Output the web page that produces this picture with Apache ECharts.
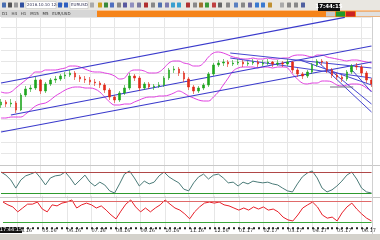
<!DOCTYPE html>
<html><head><meta charset="utf-8">
<script src="https://cdn.jsdelivr.net/npm/echarts@6/dist/echarts.min.js"></script>
<style>html,body{margin:0;padding:0;background:#fff;overflow:hidden}#c{width:380px;height:240px}</style>
</head><body><div id="c"></div>
<script>
// ---- data ----
const monthLabels = ['04.16','05.16','06.16','07.16','08.16','09.16','10.16','11.16','12.16','01.17','02.17','03.17','04.17','05.17','06.17'];
// candles: [open, close, low, high]
const candles = [
[1.060,1.063,1.057,1.066],[1.063,1.061,1.058,1.065],[1.061,1.062,1.058,1.066],[1.062,1.055,1.052,1.064],
[1.055,1.070,1.054,1.072],[1.070,1.076,1.068,1.079],[1.076,1.077,1.073,1.080],[1.077,1.085,1.075,1.088],
[1.085,1.074,1.071,1.086],[1.074,1.081,1.072,1.083],[1.081,1.085,1.079,1.087],[1.085,1.086,1.082,1.089],
[1.086,1.089,1.084,1.091],[1.089,1.090,1.086,1.093],[1.090,1.092,1.088,1.095],[1.092,1.088,1.085,1.094],
[1.088,1.086,1.083,1.090],[1.086,1.085,1.082,1.089],[1.085,1.083,1.080,1.088],[1.083,1.082,1.079,1.086],
[1.082,1.080,1.077,1.084],[1.080,1.075,1.072,1.082],[1.075,1.068,1.065,1.077],[1.068,1.065,1.062,1.070],
[1.065,1.072,1.063,1.074],[1.072,1.077,1.070,1.080],[1.077,1.089,1.075,1.092],[1.089,1.087,1.084,1.091],
[1.087,1.077,1.074,1.089],[1.077,1.081,1.075,1.083],[1.081,1.078,1.076,1.083],[1.078,1.079,1.075,1.081],
[1.079,1.080,1.077,1.083],[1.080,1.087,1.078,1.089],[1.087,1.095,1.085,1.097],[1.095,1.096,1.092,1.099],
[1.096,1.092,1.089,1.098],[1.092,1.086,1.083,1.094],[1.086,1.078,1.075,1.088],[1.078,1.074,1.071,1.080],
[1.074,1.077,1.072,1.079],[1.077,1.080,1.075,1.082],[1.080,1.091,1.078,1.093],[1.091,1.100,1.089,1.102],
[1.100,1.102,1.098,1.105],[1.102,1.103,1.099,1.106],[1.103,1.101,1.098,1.105],[1.101,1.102,1.099,1.105],
[1.102,1.103,1.100,1.106],[1.103,1.101,1.098,1.105],[1.101,1.102,1.099,1.104],[1.102,1.103,1.100,1.106],
[1.103,1.101,1.098,1.105],[1.101,1.102,1.099,1.105],[1.102,1.103,1.100,1.106],[1.103,1.101,1.098,1.104],
[1.101,1.102,1.099,1.105],[1.102,1.101,1.098,1.104],[1.101,1.103,1.099,1.106],[1.103,1.095,1.092,1.104],
[1.095,1.091,1.088,1.097],[1.091,1.089,1.086,1.093],[1.089,1.093,1.087,1.095],[1.093,1.100,1.091,1.102],
[1.100,1.104,1.098,1.106],[1.104,1.103,1.100,1.106],[1.103,1.095,1.092,1.104],[1.095,1.090,1.087,1.097],
[1.090,1.088,1.085,1.092],[1.088,1.086,1.083,1.090],[1.086,1.093,1.084,1.095],[1.093,1.099,1.091,1.101],
[1.099,1.098,1.095,1.102],[1.098,1.092,1.089,1.100],[1.092,1.085,1.082,1.094],[1.085,1.081,1.078,1.087]
];
const upperBand = [1.073,1.072,1.073,1.077,1.081,1.085,1.089,1.093,1.093,1.095,1.095,1.095,1.096,1.097,1.099,1.099,
1.098,1.096,1.094,1.093,1.093,1.092,1.091,1.089,1.086,1.087,1.093,1.095,1.095,1.094,1.092,1.092,1.093,1.097,1.102,1.104,
1.104,1.102,1.101,1.099,1.099,1.102,1.108,1.112,1.113,1.112,1.110,1.108,1.107,1.106,1.106,1.107,1.106,1.106,1.107,1.106,
1.106,1.107,1.107,1.109,1.110,1.110,1.109,1.108,1.110,1.110,1.108,1.107,1.106,1.105,1.104,1.105,1.105,1.104,1.103,1.102];
const lowerBand = [1.047,1.047,1.048,1.048,1.048,1.051,1.055,1.059,1.061,1.062,1.065,1.069,1.072,1.075,1.077,1.078,
1.078,1.077,1.077,1.076,1.073,1.068,1.063,1.060,1.060,1.061,1.061,1.063,1.065,1.067,1.068,1.068,1.069,1.069,1.070,1.072,
1.074,1.072,1.069,1.067,1.065,1.064,1.064,1.068,1.073,1.080,1.087,1.094,1.097,1.098,1.098,1.098,1.097,1.098,1.098,1.097,
1.098,1.098,1.097,1.091,1.086,1.082,1.081,1.082,1.082,1.084,1.084,1.083,1.080,1.079,1.080,1.081,1.081,1.080,1.077,1.074];
// trend lines: [[x0, price0], [x1, price1]] in bar index units
const channelLines = [
  [[0, 1.082], [69.6, 1.1476]],
  [[2, 1.050], [75, 1.119]],
  [[0, 1.033], [75, 1.103]]
];
const fanLines = [
  [[46.4, 1.112], [75, 1.097]],
  [[46.4, 1.107], [75, 1.087]],
  [[64.2, 1.103], [75, 1.053]],
  [[66.6, 1.095], [75, 1.061]],
  [[70.7, 1.097], [75, 1.073]],
  [[60.5, 1.105], [75, 1.080]]
];
const grayLines = [
  [[66.6, 1.078], [71.3, 1.078]]
];
const osc1 = [80,71,57,34,57,69,74,80,63,43,63,69,71,80,63,43,57,71,51,40,51,43,26,20,46,74,83,63,40,54,46,51,69,80,66,57,49,31,26,49,66,74,60,71,74,63,49,51,40,51,46,54,51,49,51,46,43,34,26,23,46,66,77,83,63,34,23,29,40,54,71,80,60,34,23,20];
const osc2 = [77,69,63,49,60,71,71,77,57,49,69,66,74,77,83,60,69,74,69,60,66,54,40,29,51,71,83,63,49,60,49,60,69,83,71,60,54,43,29,49,63,74,77,74,77,69,66,60,54,60,54,63,57,63,54,57,49,34,26,23,40,60,69,77,63,40,31,34,23,46,63,74,57,43,31,23];
const levels = [80, 20];

// ---- chart ----
const cats = candles.map((_, i) => i);
const gridLineIdx = i => (i - 3) % 5 === 0;
const labelOf = i => gridLineIdx(i) ? monthLabels[(i - 3) / 5] : '';

const chart = echarts.init(document.getElementById('c'), null, {renderer: 'canvas'});
const splitL = {show: true, interval: (i) => gridLineIdx(i), lineStyle: {color: '#e6e6e6', width: 1}};
function catAxis(grid, showLabels) {
  return {type: 'category', gridIndex: grid, data: cats, boundaryGap: false,
    axisLine: {show: false}, axisTick: showLabels ? {show: true, interval: 0, length: 2, lineStyle: {color: '#222', width: 2}} : {show: false},
    axisLabel: showLabels ? {show: true, interval: 0, formatter: (v) => labelOf(+v), fontSize: 5, color: '#333', margin: 1, fontFamily: 'DejaVu Sans', align: 'left'} : {show: false},
    splitLine: splitL};
}
const lineSeries = (arr, color, width) => arr.map(seg => ({
  type: 'line', xAxisIndex: 1, yAxisIndex: 0, data: seg, symbol: 'none', silent: true,
  lineStyle: {color, width}, clip: true, z: 3
}));

// toolbar decoration (icons)
const icons = [
  [2,'#4a6fb0'],[8,'#555'],[14,'#999'],[20,'#3050a0'],[58,'#3060c0'],[64,'#3060c0'],[90,'#aaa'],
  [98,'#d0a020'],[104,'#3a8a3a'],[110,'#5070c0'],[117,'#888'],[123,'#5a5aa0'],[130,'#9090c0'],[137,'#7a7aa0'],
  [144,'#b03030'],[151,'#888'],[158,'#5070b0'],[165,'#7a7ab0'],[171,'#3aa0d0'],[177,'#3aa0d0'],
  [186,'#b03030'],[193,'#888'],[199,'#a07030'],[205,'#3a9a3a'],[212,'#c04040'],[218,'#666'],[226,'#888'],
  [234,'#5a80c0'],[241,'#888'],[248,'#6a6a9a'],[255,'#3a7ad0'],[261,'#3a7ad0'],[268,'#c09030'],
  [280,'#aaa'],[287,'#888'],[294,'#888'],[301,'#5060a0']
];

const graphics = [
  {type: 'rect', shape: {x: 0, y: 0, width: 380, height: 10}, style: {fill: '#e9e7e1'}, z: 10},
  {type: 'rect', shape: {x: 26, y: 1.5, width: 30, height: 7}, style: {fill: '#fff', stroke: '#bbb', lineWidth: 0.5}, z: 10},
  {type: 'rect', shape: {x: 70, y: 1.5, width: 18, height: 7}, style: {fill: '#fff', stroke: '#bbb', lineWidth: 0.5}, z: 10},
  {type: 'rect', shape: {x: 0, y: 10, width: 97, height: 7}, style: {fill: '#d6d6d6'}, z: 10},
  {type: 'rect', shape: {x: 97, y: 10.5, width: 283, height: 6.5}, style: {fill: '#f5841a'}, z: 10},
  {type: 'text', style: {x: 27, y: 3, text: '2016.10.10 12:12', fontSize: 4, fill: '#335', fontFamily: 'DejaVu Sans'}, z: 11},
  {type: 'text', style: {x: 71, y: 3, text: 'EURUSD', fontSize: 4, fill: '#335', fontFamily: 'DejaVu Sans'}, z: 11},
  {type: 'text', style: {x: 2, y: 11.5, text: 'D1   H4   H1   M15   M5   EUR/USD', fontSize: 4, fill: '#333', fontFamily: 'DejaVu Sans'}, z: 11},
  {type: 'rect', shape: {x: 318, y: 3, width: 22, height: 8}, style: {fill: '#111'}, z: 12},
  {type: 'text', style: {x: 329, y: 7, text: '17:44:15', fontSize: 5.5, fontWeight: 'bold', fill: '#fff', align: 'center', verticalAlign: 'middle', fontFamily: 'DejaVu Sans'}, z: 13},
  {type: 'rect', shape: {x: 326, y: 11.5, width: 9, height: 5}, style: {fill: '#c8c8c8'}, z: 11},
  {type: 'rect', shape: {x: 336, y: 11.5, width: 9, height: 5}, style: {fill: '#1e9a2a'}, z: 11},
  {type: 'rect', shape: {x: 346, y: 11.5, width: 9, height: 5}, style: {fill: '#cc2222'}, z: 11},
  {type: 'rect', shape: {x: 356, y: 11.5, width: 24, height: 5}, style: {fill: '#e0e0e0'}, z: 11},
  {type: 'rect', shape: {x: 0, y: 234, width: 380, height: 6}, style: {fill: '#d4d2cc'}, z: 10},
  {type: 'rect', shape: {x: 0, y: 227, width: 22, height: 6}, style: {fill: '#111'}, z: 12},
  {type: 'text', style: {x: 11, y: 230, text: '17:44:15', fontSize: 5, fill: '#fff', align: 'center', verticalAlign: 'middle', fontFamily: 'DejaVu Sans'}, z: 13},
  {type: 'line', shape: {x1: 0, y1: 165.5, x2: 380, y2: 165.5}, style: {stroke: '#c8c8c8', lineWidth: 1}, z: 9},
  {type: 'line', shape: {x1: 0, y1: 197.5, x2: 380, y2: 197.5}, style: {stroke: '#c8c8c8', lineWidth: 1}, z: 9},
  {type: 'line', shape: {x1: 372.5, y1: 17, x2: 372.5, y2: 234}, style: {stroke: '#d0d0d0', lineWidth: 1}, z: 9}
].concat(icons.filter(([x]) => x < 26 || (x > 56 && x < 70) || x > 88).map(([x, c]) => ({
  type: 'rect', shape: {x: x, y: 2.5, width: 4, height: 5, r: 0.5}, style: {fill: c}, z: 11
})));

const option = {
  animation: false,
  backgroundColor: '#ffffff',
  grid: [
    {left: 1, width: 370.5, top: 17, height: 148},
    {left: 1, width: 370.5, top: 165, height: 33.25},
    {left: 1, width: 370.5, top: 195.75, height: 31.5}
  ],
  xAxis: [
    catAxis(0, false),
    {type: 'value', gridIndex: 0, min: 0, max: 75, show: false},
    catAxis(1, false),
    catAxis(2, true)
  ],
  yAxis: [
    {type: 'value', gridIndex: 0, min: 1.000, max: 1.148, interval: 0.0115, axisLine: {show: false}, axisTick: {show: false}, axisLabel: {show: false}, splitLine: {show: true, lineStyle: {color: '#e6e6e6'}}},
    {type: 'value', gridIndex: 1, min: 5, max: 100, show: false, splitLine: {show: false}},
    {type: 'value', gridIndex: 2, min: 5, max: 95, show: false, splitLine: {show: false}}
  ],
  series: [
    {type: 'line', xAxisIndex: 0, yAxisIndex: 0, data: upperBand, symbol: 'none', smooth: 0.4, lineStyle: {color: '#e040e0', width: 1}, z: 2},
    {type: 'line', xAxisIndex: 0, yAxisIndex: 0, data: lowerBand, symbol: 'none', smooth: 0.4, lineStyle: {color: '#e040e0', width: 1}, z: 2},
    ...lineSeries(channelLines, '#3a3acc', 1.2),
    ...lineSeries(fanLines, '#4646d0', 1),
    ...lineSeries(grayLines, '#707080', 1),
    {type: 'candlestick', xAxisIndex: 0, yAxisIndex: 0, data: candles, barWidth: 2, z: 4,
      itemStyle: {color: '#1fa61f', color0: '#e02a1a', borderColor: '#1fa61f', borderColor0: '#e02a1a', borderWidth: 0.6}},
    {type: 'line', xAxisIndex: 2, yAxisIndex: 1, data: osc1, symbol: 'none', lineStyle: {color: '#4b7b78', width: 1},
      markLine: {silent: true, symbol: 'none', label: {show: false}, data: [
        {yAxis: levels[0], lineStyle: {color: '#b04848', width: 1, type: 'solid'}},
        {yAxis: levels[1], lineStyle: {color: '#2f9a2f', width: 1, type: 'solid'}}]}},
    {type: 'line', xAxisIndex: 3, yAxisIndex: 2, data: osc2, symbol: 'none', lineStyle: {color: '#e8202a', width: 1},
      markLine: {silent: true, symbol: 'none', label: {show: false}, data: [
        {yAxis: levels[0], lineStyle: {color: '#e06a6a', width: 1, type: 'solid'}},
        {yAxis: levels[1], lineStyle: {color: '#3aa83a', width: 1, type: 'solid'}}]}}
  ],
  graphic: graphics
};
chart.setOption(option);
</script></body></html>
